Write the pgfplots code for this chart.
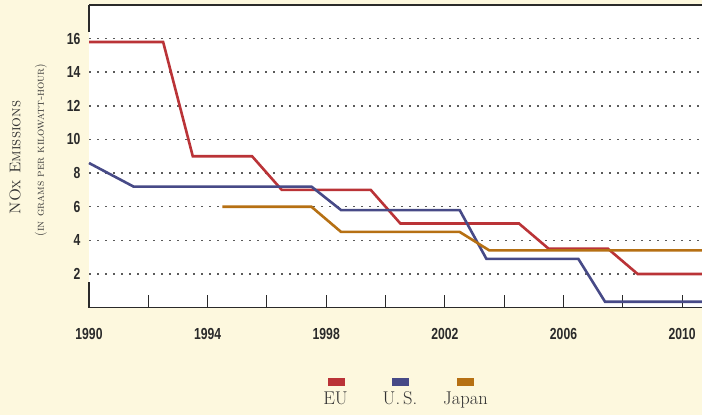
\documentclass[border=0pt]{standalone}
\usepackage{fontspec}
\usepackage{graphicx}
\usepackage{pgfplots}
\pgfplotsset{compat=1.18}
\newfontfamily\tickfont{Liberation Sans}
\definecolor{bg}{HTML}{FDF8DE}
\definecolor{eu}{HTML}{BA3337}
\definecolor{us}{HTML}{474A87}
\definecolor{jp}{HTML}{B67013}
\definecolor{axc}{HTML}{2A2A2A}
\definecolor{txt}{HTML}{333333}
\definecolor{grd}{HTML}{5A5A5A}
\newcommand\tl[1]{\scalebox{0.76}[1]{\fontsize{16bp}{16bp}\tickfont\bfseries #1}}
\begin{document}
\begin{tikzpicture}
\path[use as bounding box, fill=bg] (-89bp,-107.4bp) rectangle (613bp,307.6bp);
\begin{axis}[
  at={(0,0)}, anchor=south west, scale only axis,
  width=613bp, height=302.6bp,
  xmin=1990, xmax=2010.67, ymin=0, ymax=18,
  clip=false,
  axis line style={draw=none},
  axis background/.style={fill=white},
  xtick={1990,1992,...,2010},
  xticklabels={\tl{1990},,\tl{1994},,\tl{1998},,\tl{2002},,\tl{2006},,\tl{2010}},
  ytick={2,4,...,16},
  yticklabels={\tl{2},\tl{4},\tl{6},\tl{8},\tl{10},\tl{12},\tl{14},\tl{16}},
  xtick pos=lower, tick align=inside,
  major tick length=13bp,
  xtick style={draw=axc, line width=1bp},
  ytick style={draw=none},
  ymajorgrids,
  major grid style={draw=grd, line width=1.5bp, dash pattern=on 2.3bp off 5.7bp},
  xticklabel style={inner sep=0pt, anchor=center, yshift=-26.5bp, text=axc},
  yticklabel style={inner sep=0pt, anchor=east, xshift=-8.5bp, text=axc},
]
\addplot[eu, line width=2.6bp] coordinates {
  (1990,15.8) (1992.5,15.8) (1993.5,9) (1995.5,9) (1996.5,7) (1999.5,7)
  (2000.5,5) (2004.5,5) (2005.5,3.5) (2007.5,3.5) (2008.5,2) (2010.67,2)};
\addplot[us, line width=2.6bp] coordinates {
  (1990,8.6) (1991.5,7.2) (1997.5,7.2) (1998.5,5.8) (2002.5,5.8) (2003.4,2.9)
  (2006.5,2.9) (2007.4,0.35) (2010.67,0.35)};
\addplot[jp, line width=2.6bp] coordinates {
  (1994.5,6) (1997.5,6) (1998.5,4.5) (2002.5,4.5) (2003.5,3.4) (2010.67,3.4)};
\draw[axc, line width=1.8bp] (rel axis cs:0,1) -- (rel axis cs:1,1);
\draw[axc, line width=1.3bp] (rel axis cs:0,0) -- (rel axis cs:1,0);
\draw[axc, line width=1.3bp] (axis cs:1990,18) -- (axis cs:1990,16.4);
\draw[axc, line width=1.3bp] (axis cs:1990,0) -- (axis cs:1990,1.52);
\end{axis}
\node[rotate=90, text=txt, font=\fontsize{15.5bp}{17bp}\selectfont] at (-74bp,150bp) {\textsc{NOx Emissions}};
\node[rotate=90, text=txt, font=\fontsize{11.5bp}{14bp}\selectfont] at (-48bp,157.6bp) {{\large(}\textsc{in grams per kilowatt-hour}{\large)}};
\fill[eu] (239bp,-78.1bp) rectangle (256bp,-70.4bp);
\fill[us] (303bp,-78.1bp) rectangle (320bp,-70.4bp);
\fill[jp] (368bp,-78.1bp) rectangle (385bp,-70.4bp);
\begin{scope}[every node/.style={anchor=base, text=txt, font=\fontsize{18.5bp}{20bp}\selectfont}]
\node at (246.5bp,-96.4bp) {EU};
\node at (311bp,-96.4bp) {U.\,S.};
\node at (376.5bp,-96.4bp) {Japan};
\end{scope}
\end{tikzpicture}
\end{document}
